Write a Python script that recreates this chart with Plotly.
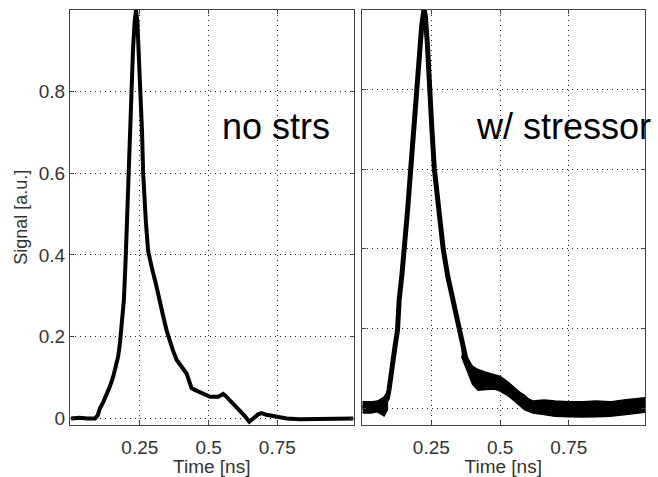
import plotly.graph_objects as go
from plotly.subplots import make_subplots

# ---- data ----
t_nostrs = [0.0, 0.03, 0.06, 0.087, 0.097, 0.105, 0.117, 0.129, 0.141, 0.153, 0.163, 0.171,
            0.177, 0.181, 0.187, 0.192, 0.199, 0.204, 0.208, 0.214, 0.219, 0.225, 0.231,
            0.236, 0.241, 0.247, 0.253, 0.258, 0.262, 0.267, 0.272, 0.280, 0.287, 0.293,
            0.308, 0.323, 0.335, 0.347, 0.360, 0.370, 0.384, 0.400, 0.420, 0.430, 0.438,
            0.450, 0.468, 0.485, 0.505, 0.520, 0.535, 0.545, 0.553, 0.562, 0.577, 0.595,
            0.614, 0.632, 0.648, 0.658, 0.668, 0.680, 0.693, 0.710, 0.735, 0.760, 0.784,
            0.832, 0.880, 0.929, 0.980, 1.026]
s_nostrs = [0.0, 0.002, 0.0, 0.0, 0.008, 0.025, 0.04, 0.057, 0.078, 0.102, 0.125, 0.151,
            0.18, 0.216, 0.25, 0.29, 0.40, 0.50, 0.60, 0.70, 0.80, 0.90, 0.97,
            0.998, 0.97, 0.88, 0.80, 0.70, 0.60, 0.53, 0.48, 0.41, 0.385, 0.37,
            0.33, 0.29, 0.25, 0.216, 0.185, 0.167, 0.143, 0.127, 0.11, 0.09, 0.074,
            0.07, 0.065, 0.058, 0.053, 0.053, 0.053, 0.057, 0.06, 0.055, 0.045, 0.033,
            0.021, 0.006, -0.008, -0.002, 0.004, 0.01, 0.013, 0.009, 0.006, 0.002, 0.0,
            -0.002, -0.002, -0.001, -0.001, 0.0]

t_strs = [0.0, 0.03, 0.054, 0.078, 0.09, 0.096, 0.103, 0.109, 0.118, 0.127, 0.133, 0.143,
          0.153, 0.164, 0.175, 0.186, 0.196, 0.206, 0.215, 0.223, 0.228, 0.235, 0.243,
          0.252, 0.261, 0.277, 0.293, 0.310, 0.328, 0.35, 0.362, 0.374, 0.388, 0.404,
          0.42, 0.44, 0.465, 0.489, 0.513, 0.537, 0.56, 0.585, 0.605, 0.622, 0.65, 0.682,
          0.743, 0.803, 0.85, 0.9, 0.95, 0.972, 1.026]
s_strs = [0.0, 0.003, 0.008, 0.012, 0.025, 0.046, 0.075, 0.113, 0.155, 0.196, 0.272, 0.335,
          0.40, 0.50, 0.60, 0.70, 0.80, 0.90, 0.96, 1.0, 0.985, 0.92, 0.80,
          0.70, 0.60, 0.50, 0.40, 0.33, 0.272, 0.196, 0.16, 0.129, 0.105, 0.092,
          0.083, 0.075, 0.071, 0.068, 0.06, 0.05, 0.04, 0.029, 0.016, 0.006, 0.001, 0.0,
          -0.001, -0.002, -0.001, 0.0, 0.003, 0.004, 0.008]

# noise envelope of the "w/ stressor" trace in its flat parts (upper / lower edges)
band_t = [0.0, 0.03, 0.054, 0.078, 0.09, 0.36, 0.38, 0.40, 0.42, 0.45, 0.48, 0.50, 0.53,
          0.56, 0.59, 0.62, 0.66, 0.70, 0.75, 0.80, 0.85, 0.90, 0.95, 1.026]
band_hi = [0.016, 0.016, 0.018, 0.028, 0.041, 0.159, 0.126, 0.105, 0.097, 0.09, 0.085, 0.08, 0.065,
           0.047, 0.028, 0.018, 0.021, 0.018, 0.016, 0.016, 0.018, 0.016, 0.021, 0.026]
band_lo = [-0.012, -0.012, -0.009, -0.019, -0.004, 0.13, 0.095, 0.06, 0.045, 0.047, 0.048, 0.043,
           0.031, 0.013, -0.004, -0.012, -0.016, -0.02, -0.021, -0.022, -0.021, -0.02, -0.016, -0.01]

x_ticks = [0.25, 0.5, 0.75]
x_ticktext = ["0.25", "0.5", "0.75"]
y_ticks = [0, 0.2, 0.4, 0.6, 0.8]
y_ticktext = ["0", "0.2", "0.4", "0.6", "0.8"]

labels = ["no strs", "w/ stressor"]
xlabel = "Time [ns]"
ylabel = "Signal [a.u.]"

W, H = 658, 477
FONT = "Liberation Sans, Arial, sans-serif"
TXT = "#333333"

fig = make_subplots(rows=1, cols=2)
fig.add_trace(go.Scatter(x=t_nostrs, y=s_nostrs, mode="lines",
                         line=dict(color="black", width=4), showlegend=False), 1, 1)

# split the stressor band into its two flat parts (before the rise, after the fall)
split = 5
for a, b in [(0, split), (split, len(band_t))]:
    bx = band_t[a:b] + band_t[a:b][::-1]
    by = band_hi[a:b] + band_lo[a:b][::-1]
    fig.add_trace(go.Scatter(x=bx, y=by, mode="lines", fill="toself", fillcolor="black",
                             line=dict(color="black", width=1.5), showlegend=False,
                             hoverinfo="skip"), 1, 2)
fig.add_trace(go.Scatter(x=t_strs, y=s_strs, mode="lines",
                         line=dict(color="black", width=5), showlegend=False), 1, 2)

def px_x(p):
    return p / W

def px_y(p):
    return 1 - p / H

common_x = dict(range=[-0.004, 1.027], tickvals=x_ticks, ticktext=x_ticktext,
                ticks="inside", ticklen=4, tickcolor="#444", mirror="ticks",
                showline=True, linecolor="#444", linewidth=1, automargin=False,
                showgrid=True, gridcolor="#222", griddash="1px,4px", gridwidth=1,
                zeroline=False, tickfont=dict(family=FONT, size=19, color=TXT),
                ticklabelstandoff=5,
                title=dict(text=xlabel, font=dict(family=FONT, size=19, color=TXT), standoff=2))
common_y = dict(tickvals=y_ticks, ticktext=y_ticktext,
                ticks="inside", ticklen=4, tickcolor="#444", mirror="ticks",
                showline=True, linecolor="#444", linewidth=1, automargin=False,
                showgrid=True, gridcolor="#222", griddash="1px,4px", gridwidth=1,
                zeroline=False, tickfont=dict(family=FONT, size=19, color=TXT))

fig.update_xaxes(common_x, domain=[px_x(70), px_x(353.5)], row=1, col=1)
fig.update_xaxes(common_x, domain=[px_x(361.5), px_x(645)], row=1, col=2)
fig.update_yaxes(common_y, range=[-0.016, 1.0], domain=[px_y(425), px_y(9.5)],
                 title=dict(text=ylabel, font=dict(family=FONT, size=18, color=TXT), standoff=6),
                 row=1, col=1)
fig.update_yaxes(common_y, range=[-0.042, 1.0], domain=[px_y(425), px_y(9.5)],
                 showticklabels=False, row=1, col=2)

fig.add_annotation(text=labels[0], xref="paper", yref="paper", x=px_x(220), y=px_y(127),
                   xanchor="left", yanchor="middle", showarrow=False,
                   font=dict(family=FONT, size=36, color="black"))
fig.add_annotation(text=labels[1], xref="paper", yref="paper", x=px_x(474), y=px_y(127),
                   xanchor="left", yanchor="middle", showarrow=False,
                   font=dict(family=FONT, size=36, color="black"))

fig.update_layout(width=W, height=H, margin=dict(l=0, r=0, t=0, b=0),
                  paper_bgcolor="white", plot_bgcolor="white")

fig.write_html("out.html")
